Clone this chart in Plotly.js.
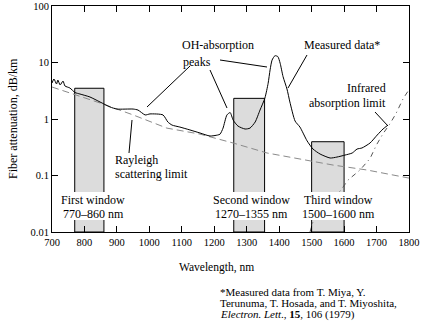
<!DOCTYPE html>
<html><head><meta charset="utf-8">
<script src="https://cdn.plot.ly/plotly-3.0.1.min.js"></script>
<style>html,body{margin:0;padding:0;background:#fff}</style>
</head><body><div id="chart" style="width:433px;height:333px"></div>
<script>
// Measured attenuation (Miya et al. 1979)
const measuredWl = [700,706,714,718,725,734,740,755,771,786,817,848,879,900,950,965,987,1002,1042,1057,1070,1094,1125,1156,1187,1210,1218,1227,1239,1249,1258,1273,1295,1310,1326,1341,1356,1366,1372,1378,1387,1396,1403,1412,1424,1433,1449,1464,1486,1504,1526,1557,1578,1603,1625,1640,1655,1680,1702,1720,1735];
const measuredDb = [4.33,5.1,4.16,4.9,4.0,4.7,3.84,3.54,2.94,2.77,2.45,2.0,1.63,1.5,1.5,1.44,1.18,1.23,1.18,0.885,0.78,0.72,0.64,0.565,0.5,0.52,0.54,0.69,1.18,1.3,0.96,0.75,0.665,0.69,0.885,1.44,2.35,4.3,7.4,11,13.2,12.7,9.7,5.6,3.4,2.0,0.92,0.72,0.41,0.295,0.24,0.204,0.212,0.23,0.25,0.294,0.307,0.376,0.52,0.665,0.78];
// Rayleigh scattering limit
const rayleighWl = [700,848,950,1054,1156,1258,1363,1464,1566,1671,1800];
const rayleighDb = [3.68,1.92,1.18,0.69,0.54,0.376,0.25,0.196,0.153,0.125,0.09];
// Infrared absorption limit
const infraredWl = [1495,1504,1550,1590,1612,1649,1680,1700,1720,1740,1760,1782,1800];
const infraredDb = [0.01,0.015,0.03,0.055,0.083,0.125,0.2,0.35,0.55,0.8,1.25,2.3,3.3];
// Transmission windows
const windowStart = [770,1260,1500];
const windowEnd = [860,1355,1600];
const windowTop = [3.5,2.32,0.396];
const windowNames = ["First window","Second window","Third window"];
const windowRanges = ["770–860 nm","1270–1355 nm","1500–1600 nm"];
// Ticks
const xTickVals = [700,800,900,1000,1100,1200,1300,1400,1500,1600,1700,1800];
const yTickVals = [0.01,0.1,1,10,100];
const yTickText = ["0.01","0.1","1","10","100"];

const FONT = "Liberation Serif, Times New Roman, serif";
const L=52,R=409,T=6,B=232;
const px = x => (x-L)/(R-L);
const py = y => (B-y)/(B-T);

const traces = [];
windowStart.forEach((s,i)=>{
  const e = windowEnd[i], t = windowTop[i];
  traces.push({x:[s,s,e,e,s], y:[0.01,t,t,0.01,0.01], mode:'lines', fill:'toself',
    fillcolor:'#dcdcdc', line:{color:'#000',width:1}, hoverinfo:'skip', showlegend:false});
});
traces.push({x:rayleighWl, y:rayleighDb, mode:'lines', line:{color:'#8a8a8a',width:1,dash:'7px,4px'}, showlegend:false});
traces.push({x:infraredWl, y:infraredDb, mode:'lines', line:{color:'#555',width:1,dash:'5px,4px,1px,4px'}, showlegend:false});
traces.push({x:measuredWl, y:measuredDb, mode:'lines', line:{color:'#000',width:1,shape:'spline',smoothing:0.6}, showlegend:false});

function txt(text,x,y,anchor,size){
  return {text:text, xref:'paper', yref:'paper', x:px(x), y:py(y), xanchor:anchor||'left', yanchor:'middle',
    showarrow:false, font:{family:FONT,size:size||12,color:'#000'}};
}
const annotations = [
  txt("OH-absorption",180,45),
  txt("peaks",181,62),
  txt("Measured data*",302,45),
  txt("Infrared",388,88,'right'),
  txt("absorption limit",388,103,'right'),
  txt("Rayleigh",113,160),
  txt("scattering limit",113,174),
  txt("Wavelength, nm",216,267,'center',11.5),
  txt("*Measured data from T. Miya, Y.",218,292,'left',11),
  txt("Terunuma, T. Hosada, and T. Miyoshita,",218,303,'left',11),
  txt("<i>Electron. Lett</i>., <b>15</b>, 106 (1979)",218,314,'left',11)
];
const labelCx = [93,251,338];
windowNames.forEach((n,i)=>{
  annotations.push(txt(n,labelCx[i],200,'center'));
  annotations.push(txt(windowRanges[i],labelCx[i],214,'center'));
});
annotations.push({text:"Fiber attenuation, dB/km", xref:'paper', yref:'paper', x:px(13), y:py(119),
  xanchor:'center', yanchor:'middle', textangle:-90, showarrow:false, font:{family:FONT,size:12,color:'#000'}});

function seg(x0,y0,x1,y1){
  return {type:'line', xref:'paper', yref:'paper', x0:px(x0), y0:py(y0), x1:px(x1), y1:py(y1),
    line:{color:'#000',width:1}, layer:'above'};
}
function box(x0,x1){
  return {type:'rect', xref:'paper', yref:'paper', x0:px(x0), x1:px(x1), y0:py(192), y1:py(220),
    fillcolor:'#fff', line:{width:0}, layer:'above'};
}
const shapes = [
  box(60,127), box(210,293), box(300,377),
  seg(147,107,190,66),
  seg(220,60,267,67),
  seg(210,70,227,108),
  seg(307,55,288,88),
  seg(375,112,388,126),
  seg(132,120,129,153)
];

const axisCommon = {showgrid:false, zeroline:false, showline:true, linecolor:'#000', linewidth:1,
  ticks:'inside', ticklen:6, tickcolor:'#000', mirror:'ticks',
  tickfont:{family:FONT,size:10.5,color:'#000'}};

const layout = {
  width:433, height:333, margin:{l:L, r:433-R, t:T, b:333-B},
  paper_bgcolor:'#fff', plot_bgcolor:'#fff', showlegend:false,
  xaxis:Object.assign({}, axisCommon, {range:[700,1800], tickmode:'array', tickvals:xTickVals}),
  yaxis:Object.assign({}, axisCommon, {type:'log', range:[-2,2], tickmode:'array', tickvals:yTickVals, ticktext:yTickText}),
  annotations:annotations, shapes:shapes
};
Plotly.newPlot('chart', traces, layout, {staticPlot:true, displayModeBar:false});
</script></body></html>
